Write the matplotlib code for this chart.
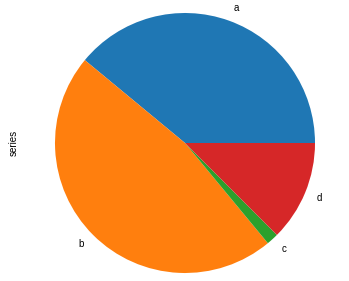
import matplotlib
matplotlib.use("Agg")
import matplotlib.pyplot as plt

labels = ["a", "b", "c", "d"]
values = [0.390, 0.470, 0.015, 0.125]
colors = ["#1f77b4", "#ff7f0e", "#2ca02c", "#d62728"]

plt.rcParams["font.family"] = ["Liberation Sans", "DejaVu Sans"]

fig = plt.figure(figsize=(3.49, 2.81), dpi=100)
ax = fig.add_axes([55 / 349, 8 / 281, 260 / 349, 260 / 281])
ax.pie(values, labels=labels, colors=colors, textprops={"fontsize": 7})
ax.set_xlim(-1, 1)
ax.set_ylim(-1, 1)
ax.set_aspect("equal")
ax.set_ylabel("series", fontsize=7)
ax.yaxis.set_label_coords(-0.14, 0.5)
fig.savefig("out.png", dpi=100)
